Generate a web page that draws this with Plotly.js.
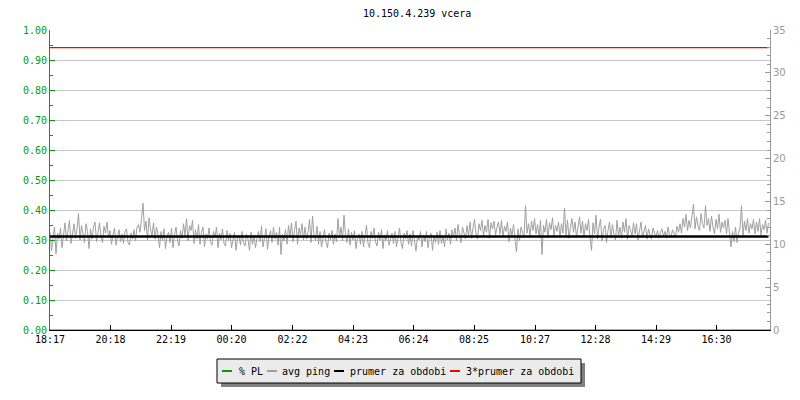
<!DOCTYPE html>
<html>
<head>
<meta charset="utf-8">
<script src="https://cdn.plot.ly/plotly-3.0.1.min.js"></script>
<style>html,body{margin:0;padding:0;background:#fff}#chart{width:800px;height:400px}</style>
</head>
<body>
<div id="chart"></div>
<script>
// ---- data ----
var chartTitle = "10.150.4.239 vcera";
var seriesNames = ["% PL", "avg ping", "prumer za obdobi", "3*prumer za obdobi"];
var startTime = Date.UTC(2024, 0, 1, 18, 17);  // 18:17
var pingStepMin = 3;        // one avg-ping sample every 3 minutes
var spanMin = 1440;         // 24 hours shown
var tickLabels = ["18:17","20:18","22:19","00:20","02:22","04:23","06:24","08:25","10:27","12:28","14:29","16:30"];

// avg ping [ms], right axis (10 samples = 30 min per row)
var avgPing = [
 11.4, 9.2, 10.8, 12.0, 8.9, 11.3, 10.6, 11.9, 9.6, 11.1,
 12.5, 10.4, 11.7, 12.8, 10.1, 11.2, 12.4, 10.7, 11.8, 13.6,
 10.5, 12.2, 11.0, 10.2, 12.4, 11.5, 9.5, 11.8, 10.6, 12.0,
 12.6, 10.3, 11.4, 12.5, 10.9, 10.2, 12.1, 11.3, 12.6, 10.8,
 11.6, 10.0, 11.1, 11.9, 9.9, 10.8, 11.7, 10.3, 11.2, 10.1,
 11.5, 11.8, 10.2, 9.9, 11.3, 10.6, 11.7, 10.4, 12.0, 12.3,
 11.4, 13.0, 14.8, 11.6, 12.7, 10.5, 13.1, 11.8, 10.9, 12.5,
 10.6, 12.0, 11.2, 9.6, 11.5, 10.4, 11.8, 9.5, 10.9, 11.4,
 10.2, 11.9, 9.6, 11.1, 12.0, 10.5, 9.8, 11.6, 10.7, 12.4,
 11.0, 13.0, 10.4, 12.2, 11.6, 12.8, 10.1, 11.7, 10.6, 12.3,
 10.0, 11.4, 12.0, 9.7, 11.2, 10.6, 11.9, 10.3, 9.9, 11.5,
 10.8, 12.0, 9.6, 11.3, 10.5, 11.8, 10.1, 9.8, 11.6, 10.4,
 11.3, 9.6, 10.5, 11.4, 9.3, 10.8, 11.0, 9.9, 11.5, 10.2,
 9.8, 11.2, 10.6, 9.3, 11.4, 10.0, 11.1, 9.6, 10.7, 11.5,
 10.3, 12.1, 9.7, 11.0, 11.8, 9.4, 10.9, 11.6, 10.2, 12.0,
 10.6, 11.4, 9.9, 12.0, 8.8, 11.2, 10.4, 11.7, 10.0, 12.2,
 10.9, 12.5, 10.3, 11.6, 12.7, 10.0, 11.9, 11.1, 12.4, 10.5,
 12.0, 10.6, 11.4, 12.9, 10.2, 13.3, 11.0, 10.4, 12.1, 10.0,
 11.5, 9.7, 10.9, 11.7, 10.2, 9.6, 11.3, 10.5, 11.6, 10.0,
 11.2, 10.3, 13.0, 10.8, 12.0, 10.4, 13.4, 11.0, 10.2, 11.8,
 9.9, 11.4, 10.5, 11.6, 9.5, 10.8, 11.2, 10.0, 11.5, 9.7,
 11.0, 12.2, 10.1, 9.6, 11.5, 10.7, 11.9, 10.3, 9.8, 11.4,
 10.5, 11.7, 9.5, 11.1, 10.4, 11.6, 9.9, 10.8, 11.3, 10.1,
 11.5, 9.7, 10.9, 11.9, 10.2, 9.5, 11.3, 10.6, 11.6, 10.0,
 11.2, 9.8, 11.6, 10.4, 9.2, 11.0, 10.5, 11.5, 9.7, 11.1,
 10.3, 11.5, 9.6, 10.8, 11.3, 9.3, 11.0, 10.2, 11.4, 10.0,
 11.6, 10.1, 11.0, 9.7, 11.8, 10.5, 11.3, 10.0, 11.7, 10.8,
 11.9, 10.4, 12.3, 11.1, 10.2, 12.0, 11.4, 10.6, 12.2, 11.0,
 12.6, 10.7, 11.9, 12.9, 11.2, 10.6, 12.4, 11.6, 12.8, 11.0,
 12.2, 11.4, 12.9, 10.7, 12.5, 11.8, 12.7, 11.1, 12.0, 12.6,
 11.2, 12.8, 10.9, 12.1, 11.5, 12.6, 10.3, 11.9, 11.0, 12.3,
 10.6, 9.1, 11.8, 10.4, 12.0, 11.2, 10.8, 14.5, 11.3, 12.4,
 11.0, 12.7, 11.6, 13.0, 11.2, 12.3, 10.9, 12.8, 8.8, 12.2,
 11.4, 12.9, 10.8, 12.5, 11.7, 13.1, 11.0, 12.2, 11.5, 12.6,
 10.9, 12.4, 11.3, 14.2, 11.0, 12.8, 10.7, 12.0, 13.0, 11.4,
 12.6, 10.8, 12.1, 13.2, 11.3, 12.7, 10.9, 12.4, 11.6, 12.9,
 10.8, 9.3, 12.5, 11.2, 13.4, 10.6, 12.0, 12.9, 10.4, 11.7,
 12.2, 10.2, 11.6, 12.6, 10.8, 12.3, 11.1, 10.5, 12.8, 11.0,
 12.0, 10.7, 12.6, 11.4, 13.0, 10.6, 12.2, 11.7, 10.9, 12.5,
 11.2, 12.4, 10.5, 11.9, 12.6, 10.8, 11.5, 12.2, 10.6, 11.8,
 11.1, 10.6, 11.9, 11.2, 10.8, 11.6, 10.7, 11.4, 11.8, 10.9,
 11.5, 10.7, 12.0, 11.1, 10.8, 11.7, 11.3, 10.9, 12.1, 11.4,
 12.4, 11.3, 13.0, 12.0, 13.5, 11.6, 12.8, 11.9, 13.3, 14.7,
 11.8, 13.2, 12.1, 11.6, 13.6, 12.4, 11.9, 14.5, 12.2, 13.0,
 11.5, 13.3, 12.0, 11.2, 12.9, 11.8, 13.5, 11.4, 12.6, 11.9,
 12.8, 11.2, 13.0, 10.9, 9.7, 11.5, 10.3, 12.0, 10.2, 11.3,
 11.9, 14.5, 11.0, 12.7, 11.6, 13.0, 11.3, 12.4, 11.8, 12.9,
 11.2, 12.6, 11.5, 13.0, 11.1, 12.3, 11.7, 12.8, 11.3, 12.5
];
// packet loss [fraction], left axis, hourly
var packetLoss = [0,0,0,0,0,0,0,0,0,0,0,0,0,0,0,0,0,0,0,0,0,0,0,0,0];
var plStepMin = 60;
var avgValue = 10.9;        // prumer za obdobi [ms]
var tripleAvgValue = 32.95; // 3*prumer za obdobi [ms]

// ---- build ----
var MIN = 60000;
var pingX = avgPing.map(function(_, i){ return startTime + i * pingStepMin * MIN; });
var plX = packetLoss.map(function(_, i){ return startTime + i * plStepMin * MIN; });
var endTime = startTime + spanMin * MIN;
var lineEnd = pingX[pingX.length - 1];
var tickVals = tickLabels.map(function(t){
  var h = parseInt(t.slice(0,2),10), m = parseInt(t.slice(3),10);
  var d = Date.UTC(2024,0,1,h,m);
  if (d < startTime) d += 1440 * MIN;
  return d;
});

var GREEN = "#00a000", GRAY = "#a0a0a0", AXG = "#999999", RED = "#ff0000";
var MONO = "DejaVu Sans Mono, monospace";

var traces = [
  {x: plX, y: packetLoss, name: seriesNames[0], type: "scatter", mode: "lines",
   line: {color: GREEN, width: 1}, yaxis: "y", hoverinfo: "skip"},
  {x: pingX, y: avgPing, name: seriesNames[1], type: "scatter", mode: "lines",
   line: {color: GRAY, width: 1}, yaxis: "y2"},
  {x: [startTime, lineEnd], y: [avgValue, avgValue], name: seriesNames[2], type: "scatter", mode: "lines",
   line: {color: "#000000", width: 2.6}, yaxis: "y2"},
  {x: [startTime, lineEnd], y: [tripleAvgValue, tripleAvgValue], name: seriesNames[3], type: "scatter", mode: "lines",
   line: {color: RED, width: 1.2}, yaxis: "y2"}
];

// pixel -> paper helpers for the custom legend (plot area: x 50..770, y 30..330)
function px(x){ return (x - 50) / 720; }
function py(y){ return (330 - y) / 300; }

var legendColors = [GREEN, GRAY, "#000000", RED];
var legendSwatchX = [222, 267, 334, 450];
var legendTextX = [237, 280, 348, 464];
var legY = 371;

var shapes = [
  {type: "rect", xref: "paper", yref: "paper", x0: px(221), x1: px(585), y0: py(387), y1: py(363),
   fillcolor: "#808080", line: {width: 0}, layer: "above"},
  {type: "rect", xref: "paper", yref: "paper", x0: px(217), x1: px(581), y0: py(383), y1: py(359),
   fillcolor: "#ebebeb", line: {color: "#000000", width: 1}, layer: "above"}
];
var annotations = [];
for (var k = 0; k < 4; k++) {
  shapes.push({type: "line", xref: "paper", yref: "paper",
    x0: px(legendSwatchX[k]), x1: px(legendSwatchX[k] + 10), y0: py(legY), y1: py(legY),
    line: {color: legendColors[k], width: 2}, layer: "above"});
  annotations.push({xref: "paper", yref: "paper", x: px(legendTextX[k]), y: py(legY),
    xanchor: "left", yanchor: "middle", showarrow: false, text: seriesNames[k],
    font: {family: MONO, size: 10, color: "#000"}});
}

var layout = {
  width: 800, height: 400,
  margin: {l: 50, r: 30, t: 30, b: 70, pad: 0},
  paper_bgcolor: "#ffffff", plot_bgcolor: "#ffffff",
  showlegend: false,
  title: {text: chartTitle, x: 0.51, xref: "paper", y: 1 - 13/400, yref: "container",
          xanchor: "center", yanchor: "middle", font: {family: MONO, size: 10, color: "#000"}},
  xaxis: {type: "date", range: [startTime, endTime], tickmode: "array", tickvals: tickVals, ticktext: tickLabels,
          ticks: "inside", ticklen: 5, tickcolor: "#000", showline: true, linecolor: "#000", linewidth: 1,
          showgrid: false, zeroline: false, tickfont: {family: MONO, size: 10, color: "#000"}, fixedrange: true},
  yaxis: {range: [0, 1], dtick: 0.1, tickformat: ".2f", ticks: "inside", ticklen: 5, tickcolor: GREEN,
          showline: true, linecolor: GREEN, linewidth: 1, showgrid: true, gridcolor: "#c8c8c8", gridwidth: 1,
          zeroline: false, tickfont: {family: MONO, size: 10, color: GREEN},
          minor: {dtick: 0.05, ticks: "inside", ticklen: 3, tickcolor: GREEN, showgrid: false}, fixedrange: true},
  yaxis2: {range: [0, 35], dtick: 5, overlaying: "y", side: "right", ticks: "inside", ticklen: 5, tickcolor: AXG,
           showline: true, linecolor: AXG, linewidth: 1, showgrid: false, zeroline: false,
           tickfont: {family: "DejaVu Sans, sans-serif", size: 10, color: AXG},
           minor: {dtick: 1, ticks: "inside", ticklen: 3, tickcolor: AXG, showgrid: false}, fixedrange: true},
  shapes: shapes,
  annotations: annotations
};

Plotly.newPlot("chart", traces, layout, {displayModeBar: false, staticPlot: true});
</script>
</body>
</html>
